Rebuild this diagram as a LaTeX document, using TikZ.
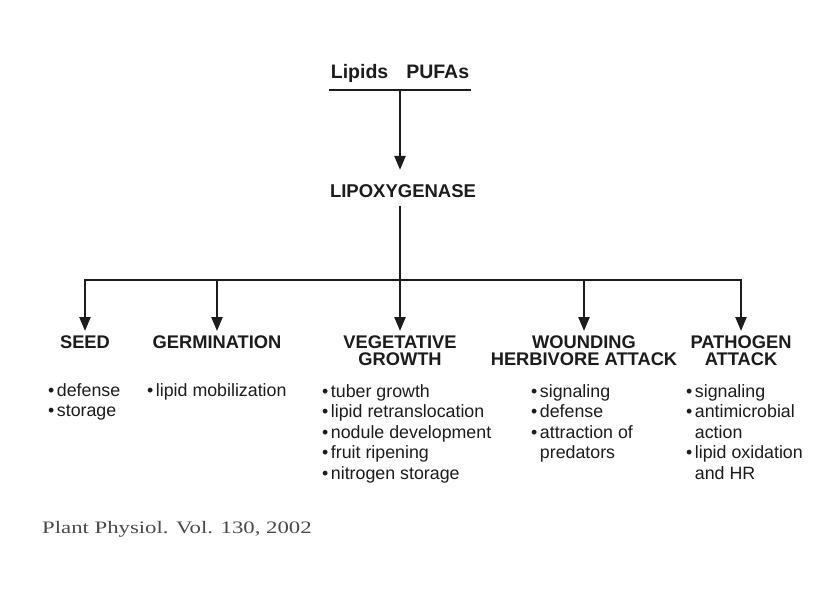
\documentclass[tikz,border=0pt]{standalone}
\usepackage{graphicx}
\usepackage{fontspec}
\setmainfont{Liberation Sans}
\newfontfamily\citefont{Liberation Serif}
\usetikzlibrary{arrows.meta}
\definecolor{ink}{HTML}{1C1C1C}
\definecolor{citegray}{HTML}{4A4A4A}
\newcommand\bul{•\hspace{2.5pt}}
\newcommand\ind{\hphantom{•\hspace{2.5pt}}}
\tikzset{
  arr/.style={draw=ink, line width=2.3pt, -{Triangle[length=14pt,width=11pt]}},
  plain/.style={draw=ink, line width=2.3pt},
  head/.style={font=\bfseries\fontsize{18.3}{16.5}\selectfont, text=ink, align=center, inner xsep=0pt, inner ysep=5pt, anchor=north},
  blist/.style={font=\fontsize{17.8}{20.5}\selectfont, text=ink, align=left, inner sep=0pt, anchor=north west},
  top/.style={font=\bfseries\fontsize{19.5}{22}\selectfont, text=ink, inner sep=0pt, anchor=base}
}
\begin{document}
\begin{tikzpicture}[x=1pt,y=-1pt]
\useasboundingbox[fill=white] (0,0) rectangle (829,610);

% top
\node[top] (pufa) at (400,78) {Lipids\hspace{18pt}PUFAs};
\draw[plain] ([xshift=-2pt,yshift=-12pt]pufa.base west) -- ([xshift=2pt,yshift=-12pt]pufa.base east);
\node[top, font=\bfseries\fontsize{18.5}{20}\selectfont] (lipox) at (403,197) {LIPOXYGENASE};
\draw[arr] ([yshift=-12pt]pufa.base) -- ([xshift=-3pt,yshift=14pt]lipox.north);

% headings
\node[head] (seed) at (85,331) {SEED};
\node[head] (germ) at (217,331) {GERMINATION};
\node[head] (veg) at (400,331) {VEGETATIVE\\GROWTH};
\node[head] (wound) at (584,331) {WOUNDING\\HERBIVORE ATTACK};
\node[head] (path) at (741,331) {PATHOGEN\\ATTACK};

% connectors
\coordinate (hub) at (400,280);
\draw[arr] ([xshift=-3pt,yshift=-9pt]lipox.south) -- (veg.north);
\draw[arr] (hub) -| (seed.north);
\draw[arr] (hub) -| (path.north);
\draw[arr] (germ.north |- hub) -- (germ.north);
\draw[arr] (wound.north |- hub) -- (wound.north);

% lists
\node[blist] (l1) at (48,383) {\bul defense\\\bul storage};
\node[blist] (l2) at (147,383) {\bul lipid mobilization};
\node[blist] (l3) at (322,384) {\bul tuber growth\\\bul lipid retranslocation\\\bul nodule development\\\bul fruit ripening\\\bul nitrogen storage};
\node[blist] (l4) at (531,384) {\bul signaling\\\bul defense\\\bul attraction of\\\ind predators};
\node[blist] (l5) at (686,384) {\bul signaling\\\bul antimicrobial\\\ind action\\\bul lipid oxidation\\\ind and HR};

% citation
\node[anchor=base west, inner sep=0pt, text=citegray, font=\citefont\fontsize{17.5}{20}\selectfont] (cite) at (42,533) {\scalebox{1.3}[1]{Plant Physiol. Vol. 130, 2002}};
\end{tikzpicture}
\end{document}
